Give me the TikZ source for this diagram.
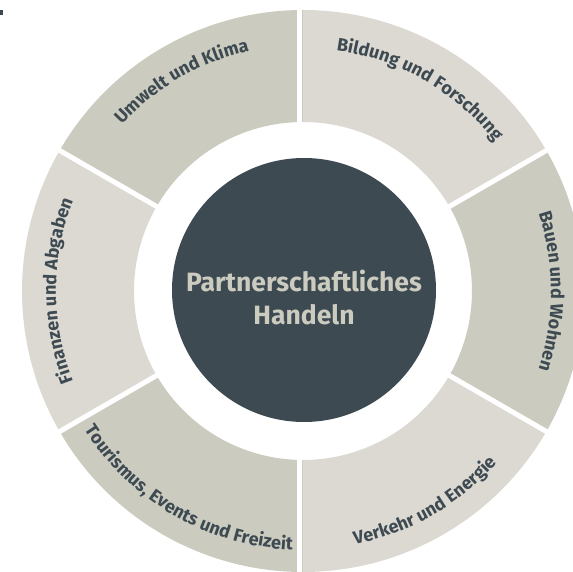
\documentclass[tikz,border=0pt]{standalone}
\usepackage{fontspec}
\setmainfont{Fira Sans}
\usepackage{tikz}
\usetikzlibrary{decorations.text}
\definecolor{slate}{HTML}{3E4A52}
\definecolor{sage}{HTML}{CBCBBF}
\definecolor{sand}{HTML}{DCD9D2}
\newcommand{\RingFont}{\fontsize{18}{21}\selectfont\bfseries}
\tikzset{
    ringpart/.style={fill=#1, draw=none},
    gap/.style={draw=white, line width=5pt},
    hub/.style={circle, fill=slate, minimum size=264pt, inner sep=0pt},
    hubtext/.style={text=sage, font=\fontsize{26.5}{33}\selectfont\bfseries, align=center},
    arclabel/.style={decorate, decoration={text along path, text align=center,
        text color=slate, text={|\RingFont|#1}}},
}

\begin{document}
\begin{tikzpicture}
    \useasboundingbox (-303pt,-281pt) rectangle (270pt,291pt);

    \fill[slate] (-303pt,281pt) rectangle (-300pt,276pt);

    \foreach \a/\c in {60/sand, 120/sage, 180/sand, 240/sage, 300/sand, 0/sage}
      \fill[ringpart=\c] ({\a-30}:169pt) arc[start angle=\a-30, end angle=\a+30, radius=169pt]
        -- ({\a+30}:281pt) arc[start angle=\a+30, end angle=\a-30, radius=281pt] -- cycle;

    \foreach \a in {30, 150, 210, 330}
      \draw[gap] (\a:160pt) -- (\a:290pt);
    \draw[gap] (-3pt,160pt) -- (-3pt,290pt);
    \draw[gap] (-3pt,-160pt) -- (-3pt,-290pt);

    \node[hub] (hub) at (1pt,1pt) {};
    \node[hubtext] (title) at (1pt,-6pt) {Partnerschaftliches\\Handeln};

    \path[arclabel={Bildung und Forschung}] (90:243pt) arc[start angle=90, end angle=30, radius=243pt];
    \path[arclabel={Umwelt und Klima}] (150:246pt) arc[start angle=150, end angle=90, radius=246pt];
    \path[arclabel={Finanzen und Abgaben}] (210:247pt) arc[start angle=210, end angle=150, radius=247pt];
    \path[arclabel={Bauen und Wohnen}] (30:248pt) arc[start angle=30, end angle=-30, radius=248pt];
    \path[arclabel={Tourismus, Events und Freizeit}] (210:259pt) arc[start angle=210, end angle=270, radius=259pt];
    \path[arclabel={Verkehr und Energie}] (270:259pt) arc[start angle=270, end angle=330, radius=259pt];
\end{tikzpicture}
\end{document}
